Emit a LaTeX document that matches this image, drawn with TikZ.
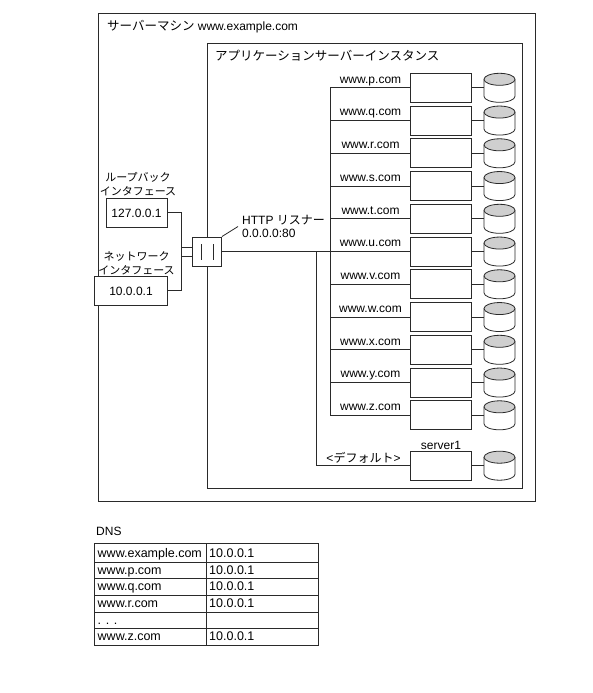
\documentclass[tikz,border=0pt]{standalone}
\usepackage{fontspec}
\setmainfont{Liberation Sans}
\newfontfamily\cjk{Noto Sans CJK JP}
\definecolor{ink}{HTML}{2A2A2A}
\definecolor{dbtop}{HTML}{CFCFCF}
\tikzset{
  wire/.style={draw=ink,line width=0.8pt},
  framebox/.style={draw=ink,line width=0.9pt,fill=white},
  hostbox/.style={framebox,minimum width=61pt,minimum height=29pt,inner sep=0pt},
  lbl/.style={font=\fontsize{12}{14}\selectfont,inner sep=0pt,anchor=base},
  ifacelbl/.style={font=\fontsize{11}{14}\selectfont,inner sep=0pt,align=center},
  celltxt/.style={font=\fontsize{12.5}{14}\selectfont,inner sep=0pt,anchor=base west},
  dbcyl/.pic={
    \coordinate (-west) at (-15.5,0);
    \draw[wire,fill=white] (-15.5,-8.5) -- (-15.5,8.5) arc[start angle=180,end angle=360,x radius=15.5pt,y radius=6pt] -- (15.5,-8.5);
    \draw[wire,fill=dbtop] (0,-8.5) ellipse[x radius=15.5pt,y radius=6pt];
  }
}
\begin{document}
\begin{tikzpicture}[x=1pt,y=-1pt]
  \useasboundingbox (0,0) rectangle (593,693);
  % machine and instance frames
  \draw[framebox] (98.5,13.5) rectangle (535.5,501);
  \draw[framebox] (207,43) rectangle (522.5,488.5);
  \node[lbl,anchor=base west] (machine) at (107,31) {{\cjk\fontsize{12.5}{14}\selectfont サーバーマシン} www.example.com};
  \node[lbl,anchor=base west] (instance) at (215,61) {\cjk\fontsize{12.5}{14}\selectfont アプリケーションサーバーインスタンス};
  % interfaces
  \node[framebox,minimum width=61pt,minimum height=29pt,inner sep=0pt] (loop) at (136.5,212.5) {};
  \node[framebox,minimum width=73pt,minimum height=29pt,inner sep=0pt] (net) at (130.5,290.5) {};
  \node[lbl] (looptxt) at (136.5,217) {127.0.0.1};
  \node[lbl] (nettxt) at (131,295) {10.0.0.1};
  \node[ifacelbl] (looplbl) at (138,184) {\cjk ループバック\\\cjk インタフェース};
  \node[ifacelbl] (netlbl) at (136.5,263) {\cjk ネットワーク\\\cjk インタフェース};
  % listener
  \node[framebox,minimum width=29pt,minimum height=29pt,inner sep=0pt] (listener) at (207,251.5) {};
  \draw[wire] ([xshift=-6pt,yshift=-8pt]listener.center) -- ([xshift=-6pt,yshift=8pt]listener.center);
  \draw[wire] ([xshift=6pt,yshift=-8pt]listener.center) -- ([xshift=6pt,yshift=8pt]listener.center);
  \node[lbl,anchor=base west] (httplbl) at (242,224) {HTTP {\cjk リスナー}};
  \node[lbl,anchor=base west] (portlbl) at (242,237.5) {0.0.0.0:80};
  \coordinate (leader) at (238,226.5);
  \draw[wire] (listener.north east) -- (leader);
  \draw[wire] (loop.east) -- (181.5,212.5) |- ([yshift=-4.5pt]listener.west);
  \draw[wire] (net.east) -- (181.5,290.5) |- ([yshift=4.5pt]listener.west);
  % virtual servers
  \foreach \name [count=\i from 0] in {www.p.com,www.q.com,www.r.com,www.s.com,www.t.com,www.u.com,
      www.v.com,www.w.com,www.x.com,www.y.com,www.z.com}{
    \node[hostbox] (host\i) at (441,87.8+32.75*\i) {};
    \pic (db\i) at (499.5,87.8+32.75*\i) {dbcyl};
    \node[lbl] (lbl\i) at (370.5,83+32.75*\i) {\name};
    \draw[wire] (host\i.east) -- (db\i-west);
    \draw[wire] (host\i.west) -- (330.5,87.8+32.75*\i);
  }
  \draw[wire] (330.5,87.4) -- (330.5,415.7);
  \draw[wire] (listener.east) -- (330.5,251.5);
  % default server
  \node[hostbox] (hostdef) at (441,465.7) {};
  \pic (dbdef) at (499.5,465.7) {dbcyl};
  \node[lbl] (serverlbl) at (441,449.5) {server1};
  \node[lbl] (deflbl) at (363.5,462) {<{\cjk デフォルト}>};
  \draw[wire] (hostdef.east) -- (dbdef-west);
  \draw[wire] (316,251.5) |- (hostdef.west);
  % dns table
  \node[lbl,anchor=base west] (dns) at (96,535) {DNS};
  \draw[framebox] (94,543.5) rectangle (318,645);
  \draw[wire] (206,543.5) -- (206,645);
  \foreach \y in {562,578.5,595.5,612,628.5}{
    \draw[wire] (94,\y) -- (318,\y);
  }
  \foreach \y/\host/\addr [count=\i] in {557/www.example.com/10.0.0.1,574/www.p.com/10.0.0.1,
      590/www.q.com/10.0.0.1,607/www.r.com/10.0.0.1,640/www.z.com/10.0.0.1}{
    \node[celltxt] (hostcell\i) at (97.5,\y) {\host};
    \node[celltxt] (addrcell\i) at (209,\y) {\addr};
  }
  \node[celltxt] (dots) at (97.5,624) {. . .};
\end{tikzpicture}
\end{document}
